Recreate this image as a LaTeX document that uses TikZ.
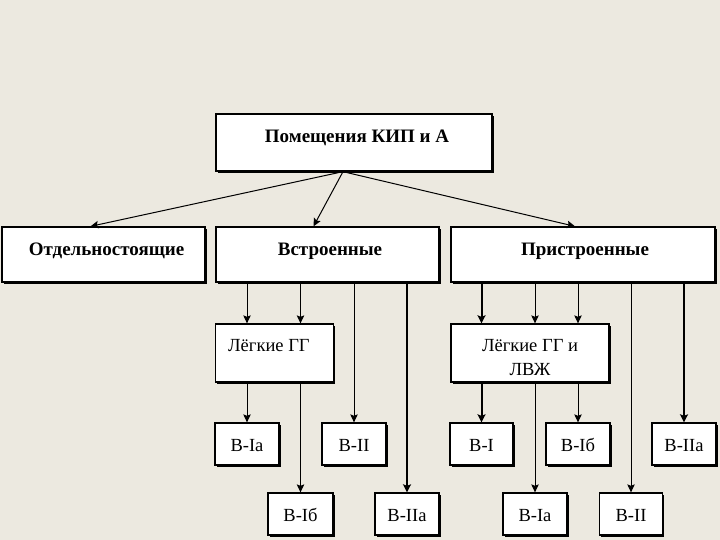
\documentclass[tikz,border=0pt]{standalone}
\usepackage{fontspec}
\setmainfont{Liberation Serif}
\usetikzlibrary{arrows.meta,shadows,calc}
\definecolor{bgc}{RGB}{236,233,224}
\tikzset{
  box/.style={draw=black, fill=white, line width=1.3pt, inner sep=0pt,
    drop shadow={shadow xshift=1.6pt, shadow yshift=-1.6pt, fill=black, opacity=1}},
  tbold/.style={font=\bfseries\fontsize{19}{22}\selectfont, inner sep=0pt, anchor=base},
  treg/.style={font=\fontsize{18.5}{23}\selectfont, inner sep=0pt, anchor=base},
  arr/.style={-{Stealth[length=8pt,width=7.5pt,inset=1.5pt]}, line width=1pt},
  tarr/.style={-{Stealth[length=8pt,width=8pt,inset=1.5pt]}, line width=2pt}
}
\begin{document}
\begin{tikzpicture}[x=1pt,y=-1pt]
\useasboundingbox[fill=bgc] (0,0) rectangle (720,540);
% boxes
\node[box, minimum width=276pt, minimum height=57pt] (top) at (354,142.5) {};
\node[box, minimum width=203pt, minimum height=55pt] (otd) at (103.5,254.5) {};
\node[box, minimum width=223pt, minimum height=55pt] (vstr) at (327.5,254.5) {};
\node[box, minimum width=264pt, minimum height=55pt] (pristr) at (583,254.5) {};
\node[box, minimum width=118pt, minimum height=58pt] (lg) at (274.5,353) {};
\node[box, minimum width=158pt, minimum height=58pt] (lgl) at (530,353) {};
% bottom row 1
\node[box, minimum width=64pt, minimum height=42pt] (aIa) at (247,444) {};
\node[box, minimum width=64pt, minimum height=42pt] (aII) at (354,444) {};
\node[box, minimum width=63pt, minimum height=42pt] (bI) at (481.5,444) {};
\node[box, minimum width=64pt, minimum height=42pt] (bIb) at (578,444) {};
\node[box, minimum width=64pt, minimum height=42pt] (bIIa) at (684,444) {};
% bottom row 2
\node[box, minimum width=65pt, minimum height=42pt] (aIb) at (300.5,514) {};
\node[box, minimum width=64pt, minimum height=42pt] (aIIa) at (407,514) {};
\node[box, minimum width=64pt, minimum height=42pt] (bIa) at (535,514) {};
\node[box, minimum width=63pt, minimum height=42pt] (bII) at (631,514) {};
% texts
\node[tbold] (ttop) at (357,142.5) {Помещения КИП и А};
\node[tbold] (totd) at (106.5,255.5) {Отдельностоящие};
\node[tbold] (tvstr) at (330,255.5) {Встроенные};
\node[tbold] (tpristr) at (585,255.5) {Пристроенные};
\node[treg, anchor=base west] (tlg) at (228,351.5) {Лёгкие ГГ};
\node[treg] (tlgl1) at (530,351.5) {Лёгкие ГГ и};
\node[treg] (tlgl2) at (530,375) {ЛВЖ};
\node[treg] (taIa) at (247,451.5) {В-Iа};
\node[treg] (taII) at (354,451.5) {В-II};
\node[treg] (tbI) at (481.5,451.5) {В-I};
\node[treg] (tbIb) at (578,451.5) {В-Iб};
\node[treg] (tbIIa) at (684,451.5) {В-IIа};
\node[treg] (taIb) at (300.5,521.5) {В-Iб};
\node[treg] (taIIa) at (407,521.5) {В-IIа};
\node[treg] (tbIa) at (535,521.5) {В-Iа};
\node[treg] (tbII) at (631,521.5) {В-II};
% top connectors
\coordinate (tp) at ($(top.south)+(-11,0)$);
\draw[arr] (tp) -- ($(otd.north)+(-13,0)$);
\draw[arr] (tp) -- ($(vstr.north)+(-14,0)$);
\draw[arr] (tp) -- ($(pristr.north)+(-8,0)$);
% Встроенные
\draw[arr] (vstr.south -| aIa.north) -- (lg.north -| aIa.north);
\draw[arr] (vstr.south -| aIb.north) -- (lg.north -| aIb.north);
\draw[arr] (lg.south -| aIa.north) -- (aIa.north);
\draw[arr] (lg.south -| aIb.north) -- (aIb.north);
\draw[arr] (vstr.south -| aII.north) -- (aII.north);
\draw[tarr] (vstr.south -| aIIa.north) -- (aIIa.north);
% Пристроенные
\draw[tarr] (pristr.south -| bI.north) -- (lgl.north -| bI.north);
\draw[arr] (pristr.south -| bIa.north) -- (lgl.north -| bIa.north);
\draw[arr] (pristr.south -| bIb.north) -- (lgl.north -| bIb.north);
\draw[tarr] (lgl.south -| bI.north) -- (bI.north);
\draw[arr] (lgl.south -| bIa.north) -- (bIa.north);
\draw[arr] (lgl.south -| bIb.north) -- (bIb.north);
\draw[arr] (pristr.south -| bII.north) -- (bII.north);
\draw[tarr] (pristr.south -| bIIa.north) -- (bIIa.north);
\end{tikzpicture}
\end{document}
